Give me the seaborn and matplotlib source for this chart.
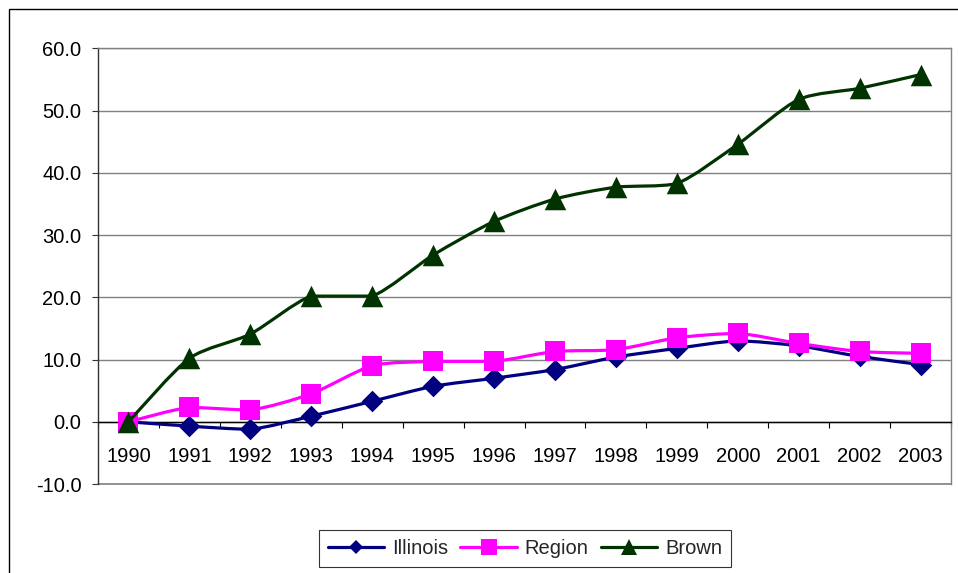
import numpy as np
import pandas as pd
import matplotlib
matplotlib.use("Agg")
import matplotlib.pyplot as plt
import seaborn as sns
from matplotlib.path import Path
from matplotlib.patches import PathPatch, Rectangle
from matplotlib.lines import Line2D

# ---- data -------------------------------------------------------------
years = [str(y) for y in range(1990, 2004)]
illinois = [0.0, -0.7, -1.2, 0.9, 3.3, 5.7, 7.0, 8.4, 10.4, 11.8, 13.0, 12.2, 10.5, 9.2]
region = [0.0, 2.3, 1.9, 4.5, 9.0, 9.7, 9.7, 11.3, 11.6, 13.5, 14.2, 12.6, 11.3, 11.0]
brown = [0.0, 10.2, 14.1, 20.2, 20.2, 26.8, 32.2, 35.8, 37.7, 38.3, 44.6, 51.8, 53.6, 55.8]
series_names = ["Illinois", "Region", "Brown"]
y_ticks = [-10, 0, 10, 20, 30, 40, 50, 60]

# ---- styling ----------------------------------------------------------
colors = ["#000080", "#FF00FF", "#003300"]
markers = ["D", "s", "^"]
marker_sizes = [11, 15, 15.5]
legend_marker_sizes = [7.5, 11, 11]
line_w = 2.3
font_size = 14.5
tension = 1.0 / 8.0

sns.set_theme(style="white")
plt.rcParams["font.family"] = ["Liberation Sans", "DejaVu Sans"]

df = pd.DataFrame({
    "year": years * 3,
    "pos": list(range(len(years))) * 3,
    "value": illinois + region + brown,
    "series": sum([[n] * len(years) for n in series_names], []),
})


def smooth_path(xs, ys):
    """Cardinal-spline Bezier path through the points, with the control
    points kept inside each segment's value range so flat runs stay flat."""
    pts = np.column_stack([xs, ys]).astype(float)
    n = len(pts)
    verts = [pts[0]]
    codes = [Path.MOVETO]
    for i in range(n - 1):
        p0 = pts[i - 1] if i > 0 else pts[i]
        p1 = pts[i]
        p2 = pts[i + 1]
        p3 = pts[i + 2] if i + 2 < n else pts[i + 1]
        c1 = p1 + (p2 - p0) * tension
        c2 = p2 - (p3 - p1) * tension
        lo, hi = min(p1[1], p2[1]), max(p1[1], p2[1])
        c1[1] = np.clip(c1[1], lo, hi)
        c2[1] = np.clip(c2[1], lo, hi)
        verts += [c1, c2, p2]
        codes += [Path.CURVE4] * 3
    return Path(verts, codes)


fig = plt.figure(figsize=(9.58, 5.73), dpi=100)
ax = fig.add_axes([0.1023, 0.1553, 0.8904, 0.7601])

for k, name in enumerate(series_names):
    sub = df[df["series"] == name]
    ax.add_patch(PathPatch(smooth_path(sub["pos"], sub["value"]), fill=False,
                           edgecolor=colors[k], lw=line_w, zorder=3 + 2 * k,
                           capstyle="round", joinstyle="round"))
    sns.scatterplot(data=sub, x="pos", y="value", marker=markers[k],
                    s=marker_sizes[k] ** 2, color=colors[k], linewidth=0,
                    legend=False, ax=ax, zorder=4 + 2 * k)

# ---- axes -------------------------------------------------------------
ax.set_xlim(-0.5, len(years) - 0.5)
ax.set_ylim(-10, 60)
ax.set_xlabel("")
ax.set_ylabel("")

ax.set_yticks(y_ticks)
ax.set_yticklabels([f"{v:.1f}" for v in y_ticks])
ax.tick_params(axis="y", left=True, length=4, width=0.8, color="#333333",
               direction="out", pad=8, labelsize=font_size, labelcolor="black")
ax.yaxis.grid(True, color="#808080", lw=1)
ax.set_axisbelow(True)

ax.set_xticks(range(len(years)))
ax.set_xticklabels(years)
ax.set_xticks(np.arange(-0.5, len(years), 1.0), minor=True)
ax.tick_params(axis="x", which="major", bottom=True, length=0, pad=18,
               labelsize=font_size, labelcolor="black")
ax.tick_params(axis="x", which="minor", bottom=True, length=4, width=0.8,
               color="black", direction="out")

ax.spines["bottom"].set_position(("data", 0))
ax.spines["bottom"].set_color("black")
ax.spines["bottom"].set_linewidth(1.0)
ax.spines["bottom"].set_zorder(2.5)
ax.spines["left"].set_color("#333333")
ax.spines["left"].set_linewidth(1.0)
for side in ("top", "right"):
    ax.spines[side].set_visible(True)
    ax.spines[side].set_color("#808080")
    ax.spines[side].set_linewidth(1.0)
ax.axhline(-10, color="#808080", lw=1.2, zorder=1, clip_on=False)

# ---- legend -----------------------------------------------------------
handles = [Line2D([], [], color=colors[k], lw=line_w, marker=markers[k],
                  markersize=legend_marker_sizes[k], markeredgewidth=0)
           for k in range(len(series_names))]
leg = fig.legend(handles, series_names, loc="center", bbox_to_anchor=(0.548, 0.042),
                 ncol=3, fontsize=font_size, frameon=True, fancybox=False,
                 edgecolor="black", handlelength=2.8, handletextpad=0.4,
                 columnspacing=0.6, borderpad=0.45)
leg.get_frame().set_linewidth(0.8)

# ---- outer chart frame ------------------------------------------------
fig.add_artist(Rectangle((9 / 958, -0.1), 1.1, 1.0 - 9 / 573 + 0.1,
                         transform=fig.transFigure, fill=False,
                         edgecolor="black", lw=1.0))

fig.savefig("out.png", dpi=100)
